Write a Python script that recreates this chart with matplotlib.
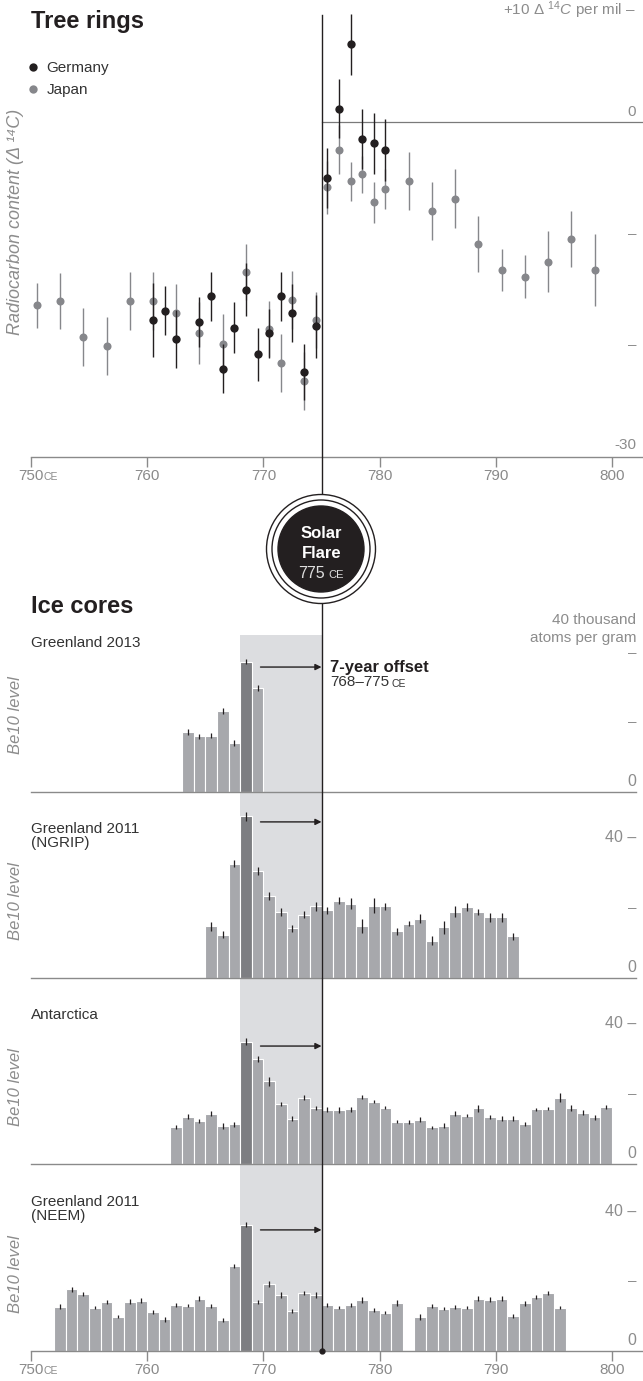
import numpy as np
import matplotlib.pyplot as plt
from matplotlib.lines import Line2D
from matplotlib.patches import Circle

plt.rcParams['font.family'] = ['Liberation Sans', 'DejaVu Sans']
plt.rcParams['mathtext.fontset'] = 'custom'
plt.rcParams['mathtext.rm'] = 'Liberation Sans'
plt.rcParams['mathtext.it'] = 'Liberation Sans:italic'

# tree rings, radiocarbon content (delta 14C, per mil)
japan_year = [750.5, 752.5, 754.5, 756.5, 758.5, 760.5, 762.5, 764.5, 766.5, 768.5,
              770.5, 771.5, 772.5, 773.5, 774.5, 775.5, 776.5, 777.5, 778.5, 779.5,
              780.5, 782.5, 784.5, 786.5, 788.5, 790.5, 792.5, 794.5, 796.5, 798.5]
japan_val = [-16.4, -16.0, -19.25, -20.05, -16.0, -16.0, -17.1, -18.9, -19.9, -13.4,
             -18.5, -21.6, -15.9, -23.2, -17.7, -5.85, -2.5, -5.3, -4.7, -7.2,
             -6.0, -5.3, -8.0, -6.85, -10.9, -13.25, -13.85, -12.5, -10.5, -13.25]
japan_err = [2.0, 2.5, 2.6, 2.6, 2.6, 2.6, 2.6, 2.8, 2.7, 2.5,
             2.5, 2.6, 2.6, 2.6, 2.5, 2.4, 2.2, 1.75, 1.7, 1.8,
             1.75, 2.6, 2.6, 2.6, 2.5, 1.85, 1.95, 2.7, 2.5, 3.2]
germany_year = [760.5, 761.5, 762.5, 764.5, 765.5, 766.5, 767.5, 768.5, 769.5, 770.5,
                771.5, 772.5, 773.5, 774.5, 775.5, 776.5, 777.5, 778.5, 779.5, 780.5]
germany_val = [-17.7, -16.9, -19.4, -17.9, -15.6, -22.1, -18.4, -15.0, -20.8, -18.9,
               -15.6, -17.1, -22.35, -18.3, -5.0, 1.2, 6.95, -1.5, -1.9, -2.5]
germany_err = [3.3, 2.2, 2.6, 2.2, 2.2, 2.2, 2.3, 2.4, 2.4, 2.2,
               2.2, 2.6, 2.5, 2.8, 2.7, 2.65, 2.75, 2.7, 2.75, 2.75]

# ice cores, Be10 (thousand atoms per gram), one value per year from the first year
core_names = ['Greenland 2013', 'Greenland 2011\n(NGRIP)', 'Antarctica', 'Greenland 2011\n(NEEM)']
core_start = [763, 765, 762, 752]
g2013_val = [17.2, 15.9, 16.1, 23.2, 14.0, 37.2, 29.8]
g2013_err = [0.8, 0.7, 0.8, 0.9, 0.8, 0.7, 0.9]
ngrip_val = [14.8, 12.4, 32.7, 46.2, 30.5, 23.5, 18.8, 14.2, 18.1, 20.5,
             19.3, 22.1, 21.2, 15.0, 20.7, 20.5, 13.3, 15.5, 17.0, 10.7,
             14.5, 19.0, 20.2, 18.8, 17.3, 17.3, 11.9]
ngrip_err = [1.3, 1.0, 1.0, 1.2, 1.1, 1.1, 1.2, 1.0, 1.0, 1.3,
             1.0, 1.0, 1.6, 2.0, 2.2, 1.0, 0.9, 0.7, 1.3, 1.4,
             1.8, 1.5, 1.1, 0.8, 1.2, 1.4, 0.9]
antarctica_val = [10.5, 13.5, 12.4, 14.4, 10.8, 11.4, 35.0, 30.1, 23.6, 17.2,
                  13.0, 19.0, 16.1, 15.5, 15.5, 15.7, 19.2, 17.8, 16.1, 12.1,
                  12.1, 12.7, 10.5, 11.0, 14.4, 13.8, 15.9, 13.5, 13.0, 13.0,
                  11.5, 15.6, 15.8, 19.0, 16.1, 14.7, 13.3, 16.4]
antarctica_err = [0.6, 0.7, 0.6, 0.7, 0.8, 0.7, 1.0, 0.9, 1.2, 0.6,
                  0.6, 0.7, 0.6, 0.7, 0.8, 0.7, 0.6, 0.5, 0.5, 0.5,
                  0.6, 0.7, 0.4, 0.6, 0.7, 0.5, 1.0, 0.5, 0.6, 0.6,
                  0.5, 0.5, 0.5, 1.3, 0.9, 0.6, 0.6, 0.6]
neem_val = [12.7, 17.6, 16.3, 12.4, 14.1, 9.8, 14.1, 14.4, 11.2, 9.1,
            13.1, 13.0, 15.0, 12.9, 8.9, 24.2, 36.1, 14.0, 19.1, 16.0,
            11.5, 16.5, 16.0, 13.1, 12.4, 13.1, 14.6, 11.8, 11.0, 13.8,
            np.nan, 9.8, 12.9, 12.1, 12.6, 12.4, 15.0, 14.7, 14.9, 10.0,
            13.6, 15.4, 16.6, 12.4]
neem_err = [0.7, 0.6, 0.6, 0.5, 0.6, 0.5, 0.8, 0.7, 0.6, 0.7,
            0.5, 0.5, 0.6, 0.6, 0.5, 0.6, 0.8, 0.7, 0.8, 0.9,
            0.5, 0.6, 0.8, 0.5, 0.5, 0.6, 0.8, 0.6, 0.5, 0.9,
            np.nan, 0.8, 0.6, 0.5, 0.5, 0.5, 0.6, 0.6, 0.7, 0.5,
            0.6, 0.6, 0.6, 0.4]
core_vals = [g2013_val, ngrip_val, antarctica_val, neem_val]
core_errs = [g2013_err, ngrip_err, antarctica_err, neem_err]
arrow_level = [35.7, 44.6, 33.7, 34.6]

year_ticks = [750, 760, 770, 780, 790, 800]
flare_year = 775
offset_start = 768

DARK = '#231f20'
GRAY_DOT = '#86878b'
TXT_GRAY = '#8c8c8c'
AXIS_GRAY = '#8a8a8a'
BAR = '#a7a8ac'
BAR_DARK = '#7d7e82'
SHADE = '#dcdde0'

# page layout in pixels
W, H = 643, 1381
X750, PPY = 31.0, 11.62


def yr(px):
    return 750 + (px - X750) / PPY


XLIM = (yr(0), yr(W))

fig = plt.figure(figsize=(W / 100, H / 100), dpi=100)


def add_ax(top, bottom, z):
    ax = fig.add_axes([0, 1 - bottom / H, 1, (bottom - top) / H], zorder=z)
    ax.set_xlim(*XLIM)
    ax.patch.set_alpha(0)
    for s in ax.spines.values():
        s.set_visible(False)
    ax.set_xticks([])
    ax.set_yticks([])
    return ax


def year_axis(ax, y0):
    ax.spines['bottom'].set_visible(True)
    ax.spines['bottom'].set_position(('data', y0))
    ax.spines['bottom'].set_bounds(750, XLIM[1])
    ax.spines['bottom'].set_color(AXIS_GRAY)
    ax.spines['bottom'].set_linewidth(1.0)
    ax.set_xticks(year_ticks)
    ax.set_xticklabels([str(t) for t in year_ticks])
    ax.tick_params(axis='x', length=7, width=1.0, color=AXIS_GRAY,
                   labelcolor=AXIS_GRAY, labelsize=11, pad=1.5)


# background (pixel rows) and foreground overlay
bg = add_ax(0, H, 0)
bg.set_ylim(H, 0)
fg = add_ax(0, H, 10)
fg.set_ylim(H, 0)

# ---------- tree rings ----------
V0, PPV = 122, 11.17
ax1 = add_ax(0, 470, 2)
ax1.set_ylim((V0 - 470) / PPV, V0 / PPV)
ax1.errorbar(japan_year, japan_val, yerr=japan_err, fmt='o', color=GRAY_DOT,
             ms=5.8, mew=0, elinewidth=1.0, capsize=0, zorder=3)
ax1.errorbar(germany_year, germany_val, yerr=germany_err, fmt='o', color=DARK,
             ms=6.0, mew=0, elinewidth=1.0, capsize=0, zorder=4)
ax1.plot([flare_year, XLIM[1]], [0, 0], color='#7a7a7a', lw=0.9, zorder=2)
year_axis(ax1, -30)
bg.text(yr(43), 479.5, 'CE', fontsize=7.5, color=AXIS_GRAY, va='baseline')

xr = yr(636)
ax1.text(xr, 10, r'+10 $\mathit{\Delta}$ $^{14}\mathit{C}$ per mil –', ha='right',
         va='center', fontsize=11, color=TXT_GRAY)
ax1.text(xr, 0.9, '0', ha='right', va='center', fontsize=11, color=TXT_GRAY)
for v in (-10, -20):
    ax1.text(xr, v, '–', ha='right', va='center', fontsize=11, color=TXT_GRAY)
ax1.text(xr, -28.9, '-30', ha='right', va='center', fontsize=11, color=TXT_GRAY)

handles = [Line2D([], [], marker='o', ls='', color=DARK, ms=6, mew=0),
           Line2D([], [], marker='o', ls='', color=GRAY_DOT, ms=6, mew=0)]
ax1.legend(handles, ['Germany', 'Japan'], loc='upper left',
           bbox_to_anchor=(28 / W, 1 - 61 / 470), frameon=False, handlelength=0.6,
           handletextpad=0.6, labelspacing=0.55, fontsize=11, borderaxespad=0,
           borderpad=0, labelcolor='#333333')

bg.text(yr(31), 21, 'Tree rings', fontsize=17, fontweight='bold', color=DARK, va='center')
bg.text(yr(16), 222, 'Radiocarbon content (Δ ¹⁴C)', rotation=90, fontsize=13,
        style='italic', color=TXT_GRAY, ha='center', va='center')

# ---------- solar flare marker ----------
fg.plot([flare_year, flare_year], [15, 1351], color=DARK, lw=1.0, zorder=1)
fg.plot([flare_year], [1351], 'o', color=DARK, ms=3.5, zorder=2)
cx, cy = 3.21, (H - 549) / 100
for r, fc in ((0.545, 'white'), (0.49, 'white'), (0.43, DARK)):
    fg.add_patch(Circle((cx, cy), r, transform=fig.dpi_scale_trans, fc=fc,
                        ec=DARK, lw=1.0, zorder=3))
fg.text(flare_year, 533, 'Solar', color='white', fontsize=12, fontweight='bold',
        ha='center', va='center', zorder=4)
fg.text(flare_year, 553, 'Flare', color='white', fontsize=12, fontweight='bold',
        ha='center', va='center', zorder=4)
fg.text(yr(325), 578, '775', color='#dddddd', fontsize=11.5, ha='right', va='baseline', zorder=4)
fg.text(yr(328), 578, 'CE', color='#dddddd', fontsize=8, ha='left', va='baseline', zorder=4)

# ---------- ice cores ----------
bg.text(yr(31), 606, 'Ice cores', fontsize=17, fontweight='bold', color=DARK, va='center')
bg.fill_between([offset_start, flare_year], 635, 1351, color=SHADE, lw=0)

PPB = 3.5
baselines = [792, 978, 1164, 1351]
for i, b in enumerate(baselines):
    ax = add_ax(b - 175, b + 12, 2)
    ax.set_ylim(-12 / PPB, 175 / PPB)
    vals = np.array(core_vals[i], dtype=float)
    errs = np.array(core_errs[i], dtype=float)
    years = np.arange(core_start[i], core_start[i] + len(vals))
    colors = [BAR_DARK if y == offset_start else BAR for y in years]
    ok = ~np.isnan(vals)
    ax.bar(years[ok], vals[ok], width=1, align='edge', color=np.array(colors)[ok],
           edgecolor='white', linewidth=0.8, zorder=2)
    ax.errorbar(years[ok] + 0.5, vals[ok], yerr=errs[ok], fmt='none', ecolor=DARK,
                elinewidth=0.9, capsize=0, zorder=3)
    if i == len(baselines) - 1:
        year_axis(ax, 0)
        bg.text(yr(43), b + 22.5, 'CE', fontsize=7.5, color=AXIS_GRAY, va='baseline')
    else:
        ax.plot([750, yr(636)], [0, 0], color=AXIS_GRAY, lw=1.0, zorder=4)

    ax.annotate('', xy=(flare_year, arrow_level[i]), xytext=(769.75, arrow_level[i]),
                arrowprops=dict(arrowstyle='-|>', color=DARK, lw=1.0,
                                mutation_scale=9, shrinkA=0, shrinkB=0), zorder=5)
    ax.text(yr(31), 44.7, core_names[i], fontsize=11, color='#333333', va='top',
            linespacing=1.05)
    ax.text(yr(16), 22, 'Be10 level', rotation=90, fontsize=12, style='italic',
            color=TXT_GRAY, ha='center', va='center')
    if i == 0:
        ax.text(xr, 49.2, '40 thousand', ha='right', va='center', fontsize=11, color=TXT_GRAY)
        ax.text(xr, 44.0, 'atoms per gram', ha='right', va='center', fontsize=11, color=TXT_GRAY)
        ax.text(xr, 39.6, '–', ha='right', va='center', fontsize=11, color=TXT_GRAY)
        ax.text(yr(330), arrow_level[i], '7-year offset', fontsize=12, fontweight='bold',
                color=DARK, va='center')
        ax.text(yr(330), 31.4, '768–775', fontsize=11, color='#333333', va='center')
        ax.text(yr(391), 30.0, 'CE', fontsize=7.5, color='#333333', va='baseline')
    else:
        ax.text(xr, 40, '40 –', ha='right', va='center', fontsize=11.5, color=TXT_GRAY)
    ax.text(xr, 20, '–', ha='right', va='center', fontsize=11, color=TXT_GRAY)
    ax.text(xr, 2.9, '0', ha='right', va='center', fontsize=11.5, color=TXT_GRAY)

fig.savefig('out.png', dpi=100)
